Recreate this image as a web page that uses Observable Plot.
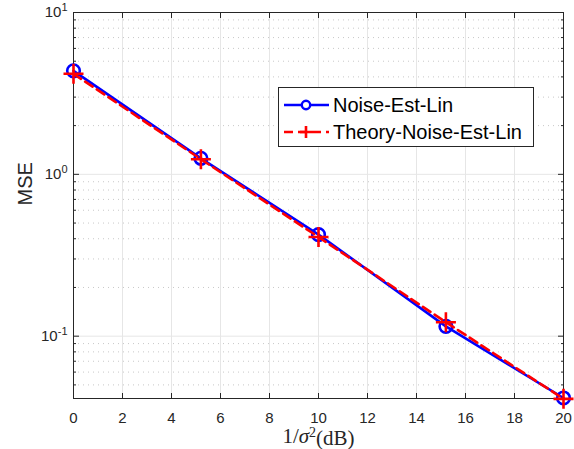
<!DOCTYPE html>
<html>
<head>
<meta charset="utf-8">
<script src="https://cdn.jsdelivr.net/npm/d3@7"></script>
<script src="https://cdn.jsdelivr.net/npm/@observablehq/plot@0.6"></script>
<style>
  html, body { margin: 0; padding: 0; background: #fff; }
  #wrap { position: relative; width: 574px; height: 449px; }
  #legend {
    position: absolute; left: 278px; top: 87px; width: 256px; height: 60px;
    box-sizing: border-box; border: 1px solid #262626; background: #fff;
  }
  #legend svg { position: absolute; left: 0; top: 0; }
</style>
</head>
<body>
<div id="wrap"></div>
<script>
const snrDb = [0, 5.2, 10, 15.2, 20];
const mseSim = [4.36, 1.256, 0.424, 0.115, 0.0415];
const mseTheory = [4.18, 1.24, 0.41, 0.122, 0.041];
const seriesNames = ["Noise-Est-Lin", "Theory-Noise-Est-Lin"];
const xTicks = [0, 2, 4, 6, 8, 10, 12, 14, 16, 18, 20];
const yMajor = [0.1, 1, 10];
const yMinor = [0.05, 0.06, 0.07, 0.08, 0.09, 0.2, 0.3, 0.4, 0.5, 0.6, 0.7, 0.8, 0.9, 2, 3, 4, 5, 6, 7, 8, 9];

const sim = snrDb.map((x, i) => ({x, y: mseSim[i]}));
const theo = snrDb.map((x, i) => ({x, y: mseTheory[i]}));

const font = "Liberation Sans, Arial, sans-serif";
const blank = () => "";
const chart = Plot.plot({
  width: 574, height: 449,
  marginLeft: 73, marginRight: 11, marginTop: 12, marginBottom: 51,
  style: {fontFamily: font, fontSize: "15px", color: "#262626", background: "#fff"},
  x: {domain: [0, 20]},
  y: {type: "log", domain: [0.0412, 10]},
  marks: [
    Plot.ruleY(yMinor, {stroke: "#c8c8c8", strokeDasharray: "1,4", strokeWidth: 1}),
    Plot.ruleX(xTicks, {stroke: "#e6e6e6", strokeWidth: 1}),
    Plot.ruleY(yMajor, {stroke: "#e6e6e6", strokeWidth: 1}),
    Plot.frame({stroke: "#262626", strokeWidth: 1}),
    // labels
    Plot.axisX({ticks: xTicks, tickSize: 0, tickPadding: 14, tickFormat: d => String(d), label: null, fontSize: 15}),
    Plot.axisY({ticks: yMajor, tickSize: 0, tickPadding: 6, tickFormat: d => String(Math.round(Math.log10(d))), label: null, fontSize: 15}),
    // inward tick marks
    Plot.axisX({ticks: xTicks, tickSize: -5, tickFormat: blank, label: null}),
    Plot.axisX({anchor: "top", ticks: xTicks, tickSize: -5, tickFormat: blank, label: null}),
    Plot.axisY({ticks: yMajor, tickSize: -6, tickFormat: blank, label: null}),
    Plot.axisY({ticks: yMinor, tickSize: -3, tickFormat: blank, label: null}),
    Plot.axisY({anchor: "right", ticks: yMajor, tickSize: -6, tickFormat: blank, label: null}),
    Plot.axisY({anchor: "right", ticks: yMinor, tickSize: -3, tickFormat: blank, label: null}),
    Plot.line(sim, {x: "x", y: "y", stroke: "#0000ff", strokeWidth: 2.6}),
    Plot.dot(sim, {x: "x", y: "y", r: 6.3, stroke: "#0000ff", strokeWidth: 2.6, fill: "none"}),
    Plot.line(theo, {x: "x", y: "y", stroke: "#ff0000", strokeWidth: 2.6, strokeDasharray: "9,5"}),
    Plot.dot(theo, {x: "x", y: "y", symbol: "plus", r: 6.5, stroke: "#ff0000", strokeWidth: 2.6}),
    Plot.text(["MSE"], {frameAnchor: "left", dx: -48, rotate: -90, fontSize: 20, fill: "#262626"}),
    Plot.text(["1/σ²(dB)"], {frameAnchor: "bottom", dy: 44, lineAnchor: "bottom", fontSize: 21, fill: "#262626", fontFamily: "Liberation Serif, DejaVu Serif, serif"})
  ]
});

// Remove empty tick labels
d3.select(chart).selectAll("text").filter(function() { return d3.select(this).text() === ""; }).remove();

// Superscript exponents on the y tick labels
d3.select(chart).selectAll('g[aria-label="y-axis tick label"] text').each(function() {
  const t = d3.select(this);
  const exp = t.text();
  t.text("10");
  t.append("tspan").attr("dy", "-0.55em").attr("font-size", "11px").text(exp);
});
// Style the x label: italic sigma, superscript 2
d3.select(chart).selectAll("text").filter(function() { return d3.select(this).text() === "1/σ²(dB)"; }).each(function() {
  const t = d3.select(this);
  t.text("");
  t.append("tspan").text("1/");
  t.append("tspan").attr("font-style", "italic").text("σ");
  t.append("tspan").attr("dy", "-0.4em").attr("font-size", "14px").text("2");
  t.append("tspan").attr("dy", "0.4em").text("(dB)");
});

const wrap = document.getElementById("wrap");
wrap.appendChild(chart);

// Legend
const legend = document.createElement("div");
legend.id = "legend";
wrap.appendChild(legend);
const lsvg = d3.select(legend).append("svg").attr("width", 256).attr("height", 60);
const rows = [
  {name: seriesNames[0], color: "#0000ff", dash: null, sym: "circle", y: 17},
  {name: seriesNames[1], color: "#ff0000", dash: "9,5", sym: "plus", y: 44}
];
rows.forEach(r => {
  lsvg.append("line").attr("x1", 5).attr("x2", 50).attr("y1", r.y).attr("y2", r.y)
    .attr("stroke", r.color).attr("stroke-width", 2.6).attr("stroke-dasharray", r.dash);
  if (r.sym === "circle") {
    lsvg.append("circle").attr("cx", 27).attr("cy", r.y).attr("r", 4.2).attr("fill", "#fff")
      .attr("stroke", r.color).attr("stroke-width", 2.4);
  } else {
    lsvg.append("path").attr("d", `M21,${r.y}H33M27,${r.y - 6}V${r.y + 6}`)
      .attr("stroke", r.color).attr("stroke-width", 2.6);
  }
  lsvg.append("text").attr("x", 54).attr("y", r.y + 7).attr("font-size", 20)
    .attr("font-family", "Liberation Sans, Arial, sans-serif").attr("fill", "#000").text(r.name);
});
</script>
</body>
</html>
